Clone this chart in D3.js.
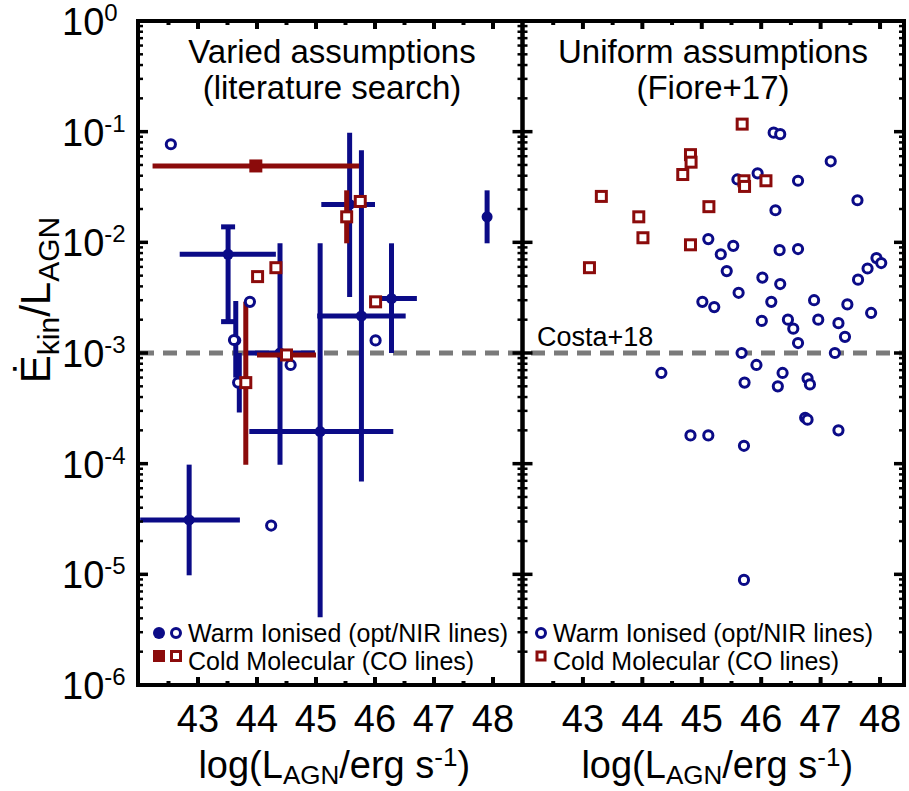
<!DOCTYPE html>
<html>
<head>
<meta charset="utf-8">
<script src="https://cdn.jsdelivr.net/npm/d3@7"></script>
<style>
  body { margin: 0; background: #fff; }
  text { font-family: "Liberation Sans", Arial, Helvetica, sans-serif; fill: #000; }
</style>
</head>
<body>
<div id="chart"></div>
<script>
// ---- data (log L_AGN, Ekin/L_AGN) ----
// left panel: literature search, filled = with error bars
const leftWarmFilled = [
  { x: 43.51, y: 7.8e-3, xlo: 42.69, xhi: 44.32, ylo: 1.92e-3, yhi: 1.38e-2, cap: true },
  { x: 43.64, y: 1.3e-3, ylo: 6.0e-4, yhi: 2.95e-3 },
  { x: 43.70, y: 5.4e-4, ylo: 2.9e-4, yhi: 1.0e-3 },
  { x: 44.39, y: 1.0e-3, xlo: 43.80, xhi: 44.98, ylo: 9.8e-5, yhi: 9.8e-3 },
  { x: 45.07, y: 1.95e-4, xlo: 43.87, xhi: 46.31, ylo: 4.1e-6, yhi: 9.8e-3 },
  { x: 42.85, y: 3.1e-5, xlo: 42.02, xhi: 43.71, ylo: 9.8e-6, yhi: 9.8e-5 },
  { x: 45.57, y: 2.2e-2, xlo: 45.09, xhi: 46.0, ylo: 3.2e-3, yhi: 9.8e-2 },
  { x: 45.77, y: 2.16e-3, xlo: 45.02, xhi: 46.52, ylo: 6.9e-5, yhi: 6.8e-2 },
  { x: 46.28, y: 3.1e-3, xlo: 45.92, xhi: 46.71, ylo: 1.0e-3, yhi: 9.8e-3 },
  { x: 47.90, y: 1.7e-2, xlo: 47.84, xhi: 47.96, ylo: 9.8e-3, yhi: 2.95e-2 }
];
const leftWarmOpen = [
  { x: 42.54, y: 0.077 }, { x: 43.88, y: 2.9e-3 }, { x: 43.61, y: 1.31e-3 },
  { x: 46.01, y: 1.3e-3 }, { x: 44.57, y: 7.8e-4 }, { x: 43.68, y: 5.4e-4 },
  { x: 44.24, y: 2.76e-5 }
];
const leftColdFilled = [
  { x: 43.98, y: 0.049, xlo: 42.23, xhi: 45.73 }
];
const leftColdOpen = [
  { x: 45.52, y: 0.017, ylo: 9.8e-3, yhi: 2.95e-2 },
  { x: 45.75, y: 0.0234 },
  { x: 44.01, y: 0.0049 },
  { x: 44.32, y: 0.0059 },
  { x: 46.01, y: 0.0029 },
  { x: 44.50, y: 9.6e-4, xlo: 44.0, xhi: 45.0 },
  { x: 43.81, y: 5.4e-4, ylo: 9.8e-5, yhi: 2.9e-3 }
];

// right panel: Fiore+17
const rightWarm = [
  [46.21, 0.098], [46.32, 0.095], [47.17, 0.054], [45.60, 0.037], [45.94, 0.042],
  [46.62, 0.036], [47.62, 0.024], [46.24, 0.0195], [45.11, 0.0107], [45.53, 0.0093],
  [45.32, 0.0078], [46.31, 0.0085], [46.62, 0.0087], [45.42, 0.0055], [46.02, 0.0048],
  [46.32, 0.0042], [47.94, 0.0072], [48.02, 0.0065], [47.79, 0.0058], [47.63, 0.0046],
  [45.62, 0.0035], [45.01, 0.0029], [45.21, 0.0026], [46.17, 0.0029], [46.89, 0.0030],
  [47.45, 0.00275], [47.85, 0.0023], [46.01, 0.00195], [46.45, 0.0020], [46.54, 0.00166],
  [46.96, 0.0020], [47.30, 0.00186], [47.41, 0.0014], [46.62, 0.00123], [45.67, 0.0010],
  [47.24, 0.0010], [45.92, 7.8e-4], [44.32, 6.6e-4], [45.72, 5.4e-4], [46.36, 6.6e-4],
  [46.28, 5.0e-4], [46.78, 5.9e-4], [46.82, 5.2e-4], [46.74, 2.6e-4], [46.78, 2.5e-4],
  [47.30, 2.0e-4], [44.81, 1.8e-4], [45.11, 1.8e-4], [45.71, 1.45e-4], [45.71, 8.9e-6]
];
const rightCold = [
  [45.68, 0.117], [44.81, 0.062], [44.82, 0.053], [44.68, 0.041], [45.71, 0.036],
  [45.72, 0.032], [46.08, 0.036], [43.31, 0.026], [45.12, 0.021], [43.94, 0.017],
  [44.01, 0.011], [44.81, 0.0095], [43.11, 0.0059]
];

const costaLevel = 1e-3;
const xTickLabels = [43, 44, 45, 46, 47, 48];
const yDecades = [1e-6, 1e-5, 1e-4, 1e-3, 1e-2, 1e-1, 1];

// ---- canvas ----
const width = 909, height = 791;
const yTop = 21, yBottom = 685;
const blue = "#0b0b87", red = "#8b0b0b";

const svg = d3.select("#chart").append("svg")
  .attr("width", width).attr("height", height);

const y = d3.scaleLog().domain([1e-6, 1]).range([yBottom, yTop]);
const xL = d3.scaleLinear().domain([42, 48.5]).range([139, 522.5]);
const xR = d3.scaleLinear().domain([42, 48.42]).range([523.5, 905]);

const panels = [
  { x: xL, left: 138, right: 522.5, title: ["Varied assumptions", "(literature search)"], tx: 332 },
  { x: xR, left: 522.5, right: 904, title: ["Uniform assumptions", "(Fiore+17)"], tx: 713 }
];

// dashed Costa+18 line (behind everything)
svg.append("line")
  .attr("x1", 140).attr("x2", 902)
  .attr("y1", y(costaLevel)).attr("y2", y(costaLevel))
  .attr("stroke", "#7a7a7a").attr("stroke-width", 5)
  .attr("stroke-dasharray", "14 9");

svg.append("text")
  .attr("x", 537).attr("y", y(costaLevel) - 7)
  .style("font-size", "27px")
  .text("Costa+18");

// ---- marks helpers ----
function errorBars(g, x, data, color) {
  data.forEach(d => {
    if (d.xlo != null) {
      g.append("line")
        .attr("x1", x(d.xlo)).attr("x2", x(d.xhi))
        .attr("y1", y(d.y)).attr("y2", y(d.y))
        .attr("stroke", color).attr("stroke-width", 5);
    }
    if (d.ylo != null) {
      g.append("line")
        .attr("x1", x(d.x)).attr("x2", x(d.x))
        .attr("y1", y(d.ylo)).attr("y2", y(d.yhi))
        .attr("stroke", color).attr("stroke-width", 5);
      if (d.cap) {
        [d.ylo, d.yhi].forEach(v => {
          g.append("line")
            .attr("x1", x(d.x) - 7).attr("x2", x(d.x) + 7)
            .attr("y1", y(v)).attr("y2", y(v))
            .attr("stroke", color).attr("stroke-width", 5);
        });
      }
    }
  });
}

function circles(g, pts, open, r) {
  g.selectAll(null).data(pts).enter().append("circle")
    .attr("cx", d => d[0]).attr("cy", d => d[1])
    .attr("r", r)
    .attr("fill", open ? "#fff" : blue)
    .attr("stroke", blue).attr("stroke-width", open ? 3 : 0);
}

function squares(g, pts, open, s) {
  g.selectAll(null).data(pts).enter().append("rect")
    .attr("x", d => d[0] - s / 2).attr("y", d => d[1] - s / 2)
    .attr("width", s).attr("height", s)
    .attr("fill", open ? "#fff" : red)
    .attr("stroke", red).attr("stroke-width", open ? 3 : 0);
}

// ---- left panel marks ----
const gl = svg.append("g");
errorBars(gl, xL, leftWarmFilled, blue);
circles(gl, leftWarmFilled.map(d => [xL(d.x), y(d.y)]), false, 5.5);
errorBars(gl, xL, leftColdFilled, red);
errorBars(gl, xL, leftColdOpen, red);
squares(gl, leftColdFilled.map(d => [xL(d.x), y(d.y)]), false, 13);
circles(gl, leftWarmOpen.map(d => [xL(d.x), y(d.y)]), true, 4.6);
squares(gl, leftColdOpen.map(d => [xL(d.x), y(d.y)]), true, 10);

// ---- right panel marks ----
const gr = svg.append("g");
circles(gr, rightWarm.map(d => [xR(d[0]), y(d[1])]), true, 4.6);
squares(gr, rightCold.map(d => [xR(d[0]), y(d[1])]), true, 10);

// ---- frames, ticks ----
const xTicks = d3.range(42.5, 48.01, 0.5);
const yTicks = y.ticks().filter(v => v > 1e-6 && v < 1);

panels.forEach((p, i) => {
  const g = svg.append("g");
  xTicks.filter(v => v < p.x.domain()[1]).forEach(v => {
    const len = Number.isInteger(v) ? 8 : 4;
    [[yBottom, -len], [yTop, len]].forEach(([yy, l]) => {
      g.append("line")
        .attr("x1", p.x(v)).attr("x2", p.x(v))
        .attr("y1", yy).attr("y2", yy + l)
        .attr("stroke", "#000").attr("stroke-width", 4);
    });
  });
  yTicks.forEach(v => {
    const major = yDecades.includes(v);
    const len = major ? 10 : 5;
    [[p.left, len], [p.right, -len]].forEach(([xx, l]) => {
      g.append("line")
        .attr("x1", xx).attr("x2", xx + l)
        .attr("y1", y(v)).attr("y2", y(v))
        .attr("stroke", "#000").attr("stroke-width", major ? 3.5 : 2.5);
    });
  });
  g.append("rect")
    .attr("x", p.left).attr("y", yTop)
    .attr("width", p.right - p.left).attr("height", yBottom - yTop)
    .attr("fill", "none").attr("stroke", "#000").attr("stroke-width", 4);

  // tick labels
  g.selectAll(null).data(xTickLabels).enter().append("text")
    .attr("x", d => p.x(d)).attr("y", 732)
    .attr("text-anchor", "middle")
    .style("font-size", "38px")
    .text(d => d);

  // x title
  const xt = g.append("text")
    .attr("x", (p.left + p.right) / 2 + 4).attr("y", 778)
    .attr("text-anchor", "middle")
    .style("font-size", "38px");
  xt.append("tspan").text("log(L");
  xt.append("tspan").attr("dy", 6).style("font-size", "26px").text("AGN");
  xt.append("tspan").attr("dy", -6).text("/erg s");
  xt.append("tspan").attr("dy", -12).style("font-size", "26px").text("-1");
  xt.append("tspan").attr("dy", 12).text(")");

  // titles
  p.title.forEach((t, k) => {
    g.append("text")
      .attr("x", p.tx).attr("y", 63 + k * 36)
      .attr("text-anchor", "middle")
      .style("font-size", "33px")
      .text(t);
  });
});

// y tick labels
yDecades.forEach(v => {
  const t = svg.append("text")
    .attr("x", 62).attr("y", y(v) + 14)
    .style("font-size", "38px");
  t.append("tspan").text("10");
  t.append("tspan").attr("dy", -14).style("font-size", "24px")
    .text(Math.round(Math.log10(v)));
});

// y title
const yt = svg.append("text")
  .attr("transform", "translate(50,300) rotate(-90)")
  .attr("text-anchor", "middle")
  .style("font-size", "42px");
yt.append("tspan").text("Ė");
yt.append("tspan").attr("dy", 9).style("font-size", "30px").text("kin");
yt.append("tspan").attr("dy", -9).text("/L");
yt.append("tspan").attr("dy", 9).style("font-size", "30px").text("AGN");

// ---- legends ----
function legend(ox, both) {
  const g = svg.append("g");
  if (both) {
    circles(g, [[ox, 633]], false, 6);
    circles(g, [[ox + 17, 633]], true, 4.5);
    squares(g, [[ox, 656]], false, 12);
    squares(g, [[ox + 17, 656]], true, 9);
  } else {
    circles(g, [[ox + 17, 633]], true, 4.5);
    squares(g, [[ox + 17, 656]], true, 8);
  }
  g.append("text").attr("x", ox + 29).attr("y", 642)
    .style("font-size", "25px").text("Warm Ionised (opt/NIR lines)");
  g.append("text").attr("x", ox + 29).attr("y", 670)
    .style("font-size", "25px").text("Cold Molecular (CO lines)");
}
legend(159, true);
legend(524, false);
</script>
</body>
</html>
